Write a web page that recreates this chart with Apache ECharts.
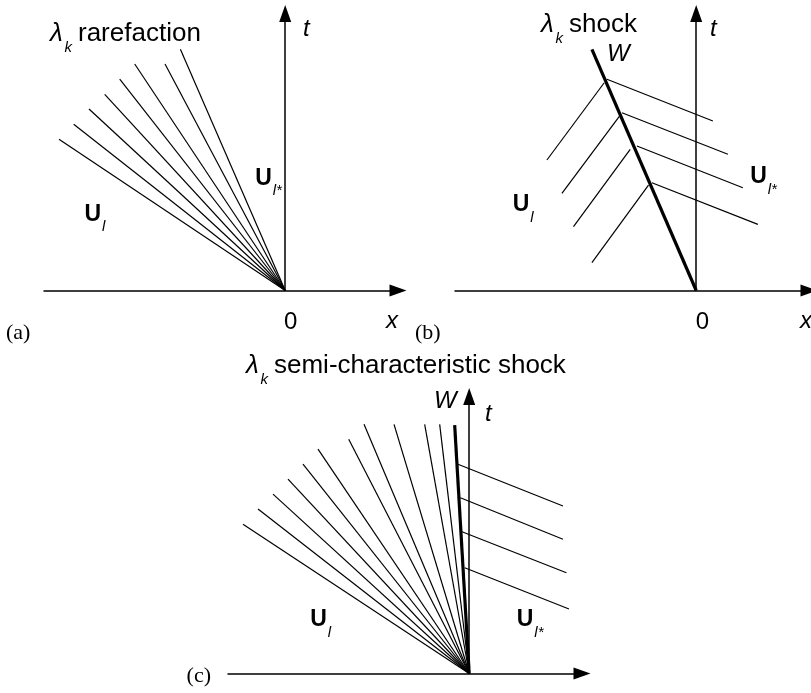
<!DOCTYPE html>
<html>
<head>
<meta charset="utf-8">
<script src="https://cdn.jsdelivr.net/npm/echarts@6/dist/echarts.min.js"></script>
<style>
  html, body { margin: 0; padding: 0; background: #fff; }
  #chart { width: 811px; height: 693px; }
</style>
</head>
<body>
<div id="chart"></div>
<script>
// Shared extent of the x–t half-planes (x left/right of the origin, t upwards)
const xRange = [-4.02, 1.88];
const tRange = [0, 4.617];

// (a) rarefaction fan: far ends of the characteristics leaving the origin
const fanA = [
  [-3.77, 2.52], [-3.525, 2.77], [-3.27, 3.025], [-3.008, 3.27],
  [-2.758, 3.525], [-2.508, 3.775], [-2.003, 3.775], [-1.747, 4.02]
];

// (b) shock path W and the characteristics meeting it from both sides
const shockB = [-1.738, 4.02];
const leftB = [
  [[-2.488, 2.175], [-1.533, 3.463]],
  [[-2.238, 1.62], [-1.278, 2.908]],
  [[-2.045, 1.063], [-1.1, 2.353]],
  [[-1.738, 0.463], [-0.795, 1.758]]
];
const rightB = [
  [[-1.488, 3.52], [0.278, 2.825]],
  [[-1.238, 2.963], [0.528, 2.27]],
  [[-0.988, 2.408], [0.778, 1.713]],
  [[-0.738, 1.797], [1.028, 1.103]]
];

// (c) fan attached to a semi-characteristic shock W
const fanC = [
  [-3.77, 2.487], [-3.52, 2.742], [-3.27, 2.99], [-3.02, 3.24],
  [-2.77, 3.49], [-2.52, 3.74], [-2.008, 3.903], [-1.753, 4.153],
  [-1.253, 4.153], [-0.742, 4.153], [-0.492, 4.153]
];
const shockC = [-0.242, 4.14];
const rightC = [
  [[-0.187, 3.487], [1.563, 2.792]],
  [[-0.147, 2.93], [1.563, 2.237]],
  [[-0.12, 2.363], [1.62, 1.68]],
  [[-0.075, 1.763], [1.663, 1.075]]
];

const SANS = '"Liberation Sans", Arial, sans-serif';
const SERIF = '"Liberation Serif", "Times New Roman", serif';

const chart = echarts.init(document.getElementById('chart'), null, { renderer: 'canvas' });

// panel placement on the page (pixels): grid left / top
const panels = [
  { left: 44, top: 13.5 },
  { left: 455, top: 13.5 },
  { left: 228, top: 396.5 }
];
const gw = 354, gh = 277;

const axisLine = {
  show: true,
  onZero: true,
  symbol: ['none', 'triangle'],
  symbolSize: [12, 17],
  lineStyle: { color: '#000', width: 1.5 }
};

const grids = panels.map(p => ({
  left: p.left, top: p.top, width: gw, height: gh,
  outerBoundsMode: 'none', containLabel: false, show: false
}));
const xAxes = panels.map((p, i) => ({
  type: 'value', gridIndex: i, min: xRange[0], max: xRange[1],
  axisLine, axisTick: { show: false }, axisLabel: { show: false }, splitLine: { show: false }
}));
const yAxes = panels.map((p, i) => ({
  type: 'value', gridIndex: i, min: tRange[0], max: tRange[1],
  axisLine, axisTick: { show: false }, axisLabel: { show: false }, splitLine: { show: false }
}));

function segs(list, idx, width, z) {
  return {
    type: 'lines', coordinateSystem: 'cartesian2d',
    xAxisIndex: idx, yAxisIndex: idx, silent: true, z: z || 2,
    lineStyle: { color: '#000', width: width, opacity: 1, curveness: 0 },
    data: list.map(c => ({ coords: c }))
  };
}
const fromOrigin = pts => pts.map(p => [[0, 0], p]);

const series = [
  segs(fromOrigin(fanA), 0, 1.2),
  segs(fromOrigin([shockB]), 1, 3.2, 3),
  segs(leftB, 1, 1.2),
  segs(rightB, 1, 1.2),
  segs(fromOrigin(fanC), 2, 1.2),
  segs(fromOrigin([shockC]), 2, 3.2, 3),
  segs(rightC, 2, 1.2)
];

// text helpers
function txt(x, y, s, size, o) {
  o = o || {};
  return {
    type: 'text', x: x, y: y, silent: true, z: 10,
    style: {
      text: s, fill: '#000', fontSize: size,
      fontFamily: o.family || SANS,
      fontStyle: o.italic ? 'italic' : 'normal',
      fontWeight: o.bold ? 'bold' : 'normal',
      align: o.align || 'left', verticalAlign: 'middle'
    }
  };
}
// bold state vector U with an italic subscript; base is the baseline of U
function stateLabel(x, base, sub) {
  return [
    txt(x, base - 8.2, 'U', 23, { bold: true }),
    txt(x + 17.5, base + 4.6, sub, 15, { italic: true })
  ];
}
// wave title: λ_k followed by the wave name; y is the text middle
function title(x, y, name) {
  return [
    txt(x, y, 'λ', 26, { italic: true }),
    txt(x + 14.5, y + 14.3, 'k', 15, { italic: true }),
    txt(x + 28, y, name, 26)
  ];
}

const texts = [].concat(
  // (a)
  title(50, 34, 'rarefaction'),
  txt(303, 29.7, 't', 24, { italic: true }),
  txt(284, 322, '0', 24),
  txt(386, 321.4, 'x', 24, { italic: true }),
  stateLabel(255.2, 186.7, 'l*'),
  stateLabel(84.5, 222.7, 'l'),
  txt(6, 333, '(a)', 22, { family: SERIF }),
  // (b)
  title(541, 24.7, 'shock'),
  txt(607, 54.1, 'W', 24, { italic: true }),
  txt(710, 29.7, 't', 24, { italic: true }),
  txt(695.7, 322, '0', 24),
  txt(800, 321.4, 'x', 24, { italic: true }),
  stateLabel(750.2, 185, 'l*'),
  stateLabel(512.8, 213.3, 'l'),
  txt(415, 333, '(b)', 22, { family: SERIF }),
  // (c)
  title(246, 366, 'semi-characteristic shock'),
  txt(434, 401.4, 'W', 24, { italic: true }),
  txt(485, 414.7, 't', 24, { italic: true }),
  stateLabel(310.2, 628.3, 'l'),
  stateLabel(516.8, 628.3, 'l*'),
  txt(211, 676, '(c)', 22, { family: SERIF, align: 'right' })
);

chart.setOption({
  backgroundColor: '#fff',
  animation: false,
  grid: grids,
  xAxis: xAxes,
  yAxis: yAxes,
  series: series,
  graphic: { elements: texts }
});
</script>
</body>
</html>
